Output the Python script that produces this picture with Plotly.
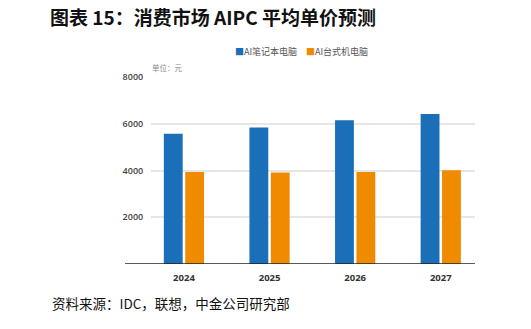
import plotly.graph_objects as go

# Average selling price forecast for consumer AI PCs (unit: yuan)
years = ["2024", "2025", "2026", "2027"]
notebook_price = [5570, 5840, 6150, 6420]
desktop_price = [3940, 3910, 3940, 4010]
y_ticks = [2000, 4000, 6000, 8000]
series_names = ["AI笔记本电脑", "AI台式机电脑"]

BLUE = "#1b6eb8"
ORANGE = "#f08b00"
CJK = "Noto Sans CJK SC"

fig = go.Figure()
fig.add_trace(go.Bar(name=series_names[0], x=years, y=notebook_price,
                     marker=dict(color=BLUE, line=dict(width=0)), showlegend=False))
fig.add_trace(go.Bar(name=series_names[1], x=years, y=desktop_price,
                     marker=dict(color=ORANGE, line=dict(width=0)), showlegend=False))

W, H = 531, 329
L, R, T, B = 151, 56, 77, 65
plot_w = W - L - R
plot_h = H - T - B

def px_x(px):
    return (px - L) / plot_w

def px_y(py):
    return (H - B - py) / plot_h

fig.update_layout(
    width=W, height=H,
    margin=dict(l=L, r=R, t=T, b=B, pad=0),
    paper_bgcolor="white", plot_bgcolor="white",
    barmode="group", bargap=0.5, bargroupgap=0.12,
    font=dict(family=CJK, color="#444"),
    title=dict(text="<b>图表 15：消费市场 AIPC 平均单价预测</b>",
               x=50 / W, xanchor="left", y=1 - 18 / H, yanchor="middle",
               font=dict(size=19, color="#111", family=CJK)),
    showlegend=False,
)

fig.update_xaxes(
    type="category", range=[-0.385, 3.40],
    showgrid=False, zeroline=False, showline=False,
    ticks="", tickfont=dict(size=9.5, color="#333", family="Open Sans", weight=700),
    ticklabelstandoff=6,
)
fig.update_yaxes(
    range=[0, 8000], tickvals=y_ticks, ticktext=[str(v) for v in y_ticks],
    showgrid=True, gridcolor="#e6e6e6", gridwidth=1.5,
    zeroline=False, showline=False,
    ticks="outside", ticklen=5, tickcolor="rgba(0,0,0,0)",
    tickfont=dict(size=9, color="#444", family="Open Sans", weight=600),
)

# baseline running past the left edge of the grid
fig.add_shape(type="line", xref="paper", yref="y",
              x0=px_x(125), x1=1, y0=0, y1=0,
              line=dict(color="#222", width=1.5), layer="above")

# compact legend: coloured square followed by the series name
for name, color, left in zip(series_names, [BLUE, ORANGE], [233, 304]):
    fig.add_annotation(
        text=f"<span style='color:{color}'>■</span>{name}",
        xref="paper", yref="paper", x=px_x(left), y=px_y(51),
        xanchor="left", yanchor="middle", showarrow=False,
        font=dict(size=9, color="#555", family=CJK))

fig.add_annotation(text="单位：元", xref="paper", yref="paper",
                   x=px_x(150), y=px_y(67), xanchor="left", yanchor="middle",
                   showarrow=False, font=dict(size=7.5, color="#888", family=CJK))

fig.add_annotation(text="资料来源：IDC，联想，中金公司研究部", xref="paper", yref="paper",
                   x=px_x(50), y=px_y(303), xanchor="left", yanchor="middle",
                   showarrow=False, font=dict(size=13.5, color="#111", family=CJK))

fig.write_html("out.html")
